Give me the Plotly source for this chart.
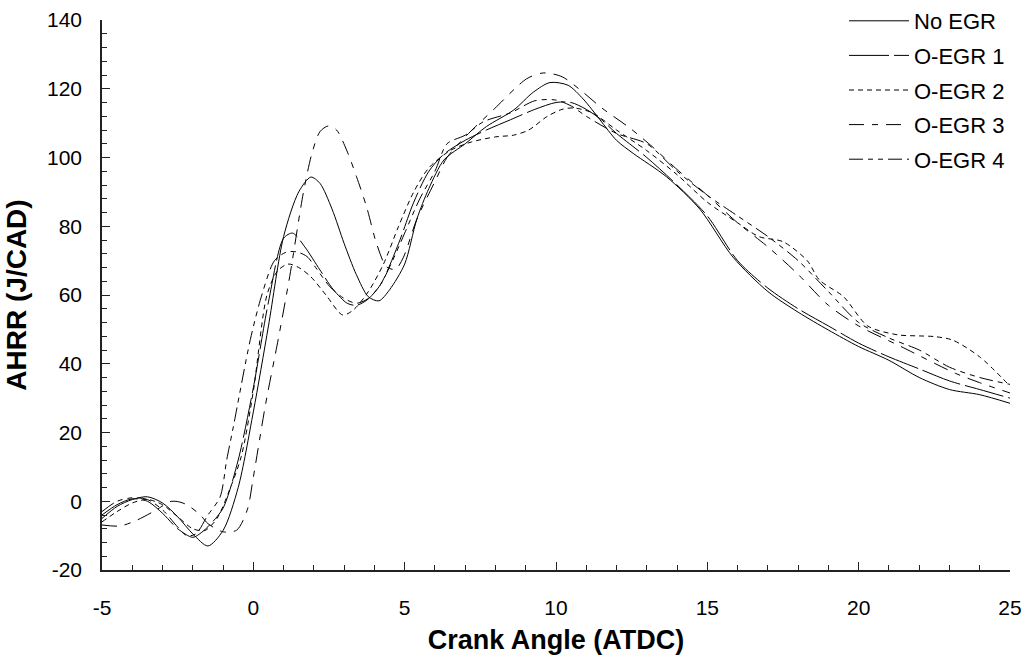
import plotly.graph_objects as go

# ---- data ----
x_no_egr = [-5, -4.5, -4, -3.5, -3, -2.5, -2, -1.5, -1, -0.5, 0, 0.5, 1, 1.5, 1.9, 2.2, 2.6, 3, 3.4, 3.8,
            4.15, 4.5, 5, 5.4, 5.8, 6.3, 7, 7.7, 8.6, 9.25, 9.8, 10.4, 10.9, 11.45, 12, 12.55, 13.65,
            14.75, 15.85, 17, 18, 19, 20, 21, 22, 23, 24, 25]
y_no_egr = [-5, -1.5, 0.5, 1.3, -0.5, -4.5, -9.5, -13, -8.5, 4, 26, 51, 77, 90, 94.3, 92.5, 85, 75, 66, 59.5,
            58.3, 61.5, 69, 82, 91, 99.3, 104, 109, 113.8, 119, 121.8, 121, 117, 111, 105, 101.2, 94.4,
            85, 71, 61, 55, 49.8, 45, 41, 36, 32.5, 31, 28.5]

x_oegr1 = [-5, -4.5, -4, -3.5, -3, -2.5, -2, -1.7, -1.4, -1, -0.5, 0, 0.5, 1, 1.3, 1.7, 2.2, 2.65, 3.1, 3.4,
           3.75, 4.2, 4.8, 5.3, 5.8, 6.3, 7, 7.7, 8.5, 9.3, 10, 10.5, 11, 11.5, 12, 13, 14, 15, 16, 17,
           18, 19, 20, 21, 22, 23, 24, 25]
y_oegr1 = [-4, -1, 0.7, 0, -3.5, -8, -10.5, -9, -6.5, -2, 12, 33, 58, 76.5, 78, 74, 67.3, 61.5, 57.6, 57,
           58.5, 63, 75, 87, 96, 101, 105, 108, 111, 114, 116, 116, 114, 111, 107, 100, 92, 83, 70, 62,
           56, 51, 46, 42, 38.5, 35, 32.5, 30]

x_oegr2 = [-5, -4.5, -4, -3.5, -3, -2.5, -2, -1.6, -1.2, -0.8, -0.4, 0, 0.45, 0.8, 1.15, 1.5, 1.9, 2.4,
           2.95, 3.3, 3.8, 4.3, 4.8, 5.3, 5.8, 6.5, 7.2, 8, 8.6, 9.1, 9.7, 10.2, 10.6, 11.2, 12, 13, 14,
           15, 16, 16.7, 17.5, 18.3, 18.7, 19.5, 20.3, 21.3, 22, 22.5, 23.1, 24, 25]
y_oegr2 = [-6, -3, -0.5, 0.5, -1, -4.5, -8, -8.5, -5, 3, 13, 32, 60, 67, 69, 68, 65.3, 60,
           54.2, 55.6, 61, 69, 80, 90, 97, 102, 104.5, 106, 106.5, 108, 111.9, 114, 114.4, 113, 108, 102, 95,
           87, 81, 77, 75.5, 70, 64.4, 59.5, 51, 48.4, 48.1, 47.9, 46.9, 42, 33.5]

x_oegr3 = [-5, -4.4, -3.85, -3.2, -2.75, -2.5, -2.2, -1.75, -1.5, -1, -0.55, -0.2, 0, 0.4, 0.82, 1.2, 1.65,
           1.93, 2.2, 2.48, 2.75, 3.08, 3.41, 3.74, 4.07, 4.4, 4.7, 4.96, 5.4, 6, 6.4, 7, 7.98, 9.03, 9.58,
           10.2, 10.85, 11.5, 12.45, 13.2, 13.95, 15, 16, 17, 18, 19, 20, 21.4, 23.2, 24, 25]
y_oegr3 = [-6.9, -7.2, -5.5, -2.5, -0.1, -0.1, -1, -4, -6.5, -8.9, -8.4, -2.5, 7, 28, 47, 65.3, 89.6,
           101, 107.5, 109.2, 108, 102.2, 94.4, 85.7, 75, 68.2, 67.5, 71, 82, 93, 100, 106, 114.3, 122.9, 124.6,
           123.5, 119.3, 114.5, 108.5, 103, 96.9, 89, 81, 74, 66, 57, 51, 45, 37.2, 34.5, 31.5]

x_oegr4 = [-5, -4.5, -4, -3.5, -3, -2.5, -2.2, -1.9, -1.5, -1.1, -0.88, -0.66, -0.1, 0.28, 0.7, 1.1, 1.45,
           1.77, 2.1, 2.53, 3, 3.41, 3.8, 4.2, 4.6, 5, 5.5, 6, 6.4, 7, 7.6, 8.5, 9.3, 10, 10.5, 11, 12, 13,
           14, 15, 16, 17, 18, 19, 20, 21, 22, 23, 24, 25]
y_oegr4 = [-3, 0, 1, 0.5, -2.5, -7.5, -10, -9.5, -4, 1.2, 12, 21.7, 47, 60, 70, 72.5, 72.5,
           71.2, 67.5, 62.4, 59, 57.6, 59, 63, 70, 78, 88, 96, 104, 106.5, 110.4, 113, 116.5, 116.7, 115, 112, 107, 104,
           96, 89, 83, 77, 70, 61, 52, 47.5, 44, 39, 36, 34]

series_names = ["No EGR", "O-EGR 1", "O-EGR 2", "O-EGR 3", "O-EGR 4"]
x_ticks = [-5, 0, 5, 10, 15, 20, 25]
y_ticks = [-20, 0, 20, 40, 60, 80, 100, 120, 140]

series = [
    (series_names[0], x_no_egr, y_no_egr, "solid"),
    (series_names[1], x_oegr1, y_oegr1, "40px,5px"),
    (series_names[2], x_oegr2, y_oegr2, "5px,4px"),
    (series_names[3], x_oegr3, y_oegr3, "15px,8px,6px,8px"),
    (series_names[4], x_oegr4, y_oegr4, "14px,5px,5px,5px,5px,5px"),
]

FONT = "Liberation Sans, Arial, sans-serif"

fig = go.Figure()
for i, (name, xs, ys, dash) in enumerate(series):
    assert len(xs) == len(ys), name
    fig.add_trace(go.Scatter(
        x=xs, y=ys, name=name, mode="lines", legendgroup=f"g{i}",
        line=dict(color="black", width=1, dash=dash, shape="spline", smoothing=0.8),
    ))

fig.update_layout(
    width=1023, height=661,
    margin=dict(l=102, r=13, t=20, b=91, autoexpand=False),
    paper_bgcolor="white", plot_bgcolor="white",
    font=dict(family=FONT, size=21, color="black"),
    showlegend=True,
    legend=dict(xref="paper", x=1.0, xanchor="right",
                yref="container", y=1.004, yanchor="top",
                bgcolor="rgba(0,0,0,0)", font=dict(size=22, family=FONT),
                tracegroupgap=3, itemwidth=60),
)

fig.update_xaxes(
    range=[-5, 25], tickvals=x_ticks, ticktext=[str(v) for v in x_ticks],
    automargin=False,
    showgrid=False, zeroline=False, showline=True, linecolor="#222", linewidth=1.5,
    ticks="inside", ticklen=8, tickcolor="#222", tickwidth=1,
    minor=dict(dtick=1, ticks="inside", ticklen=5, tickcolor="#222", tickwidth=1, showgrid=False),
    ticklabelstandoff=18,
    tickfont=dict(size=21, family=FONT),
    title=dict(text="<b>Crank Angle (ATDC)</b>", font=dict(size=27, family=FONT), standoff=12),
)
fig.update_yaxes(
    range=[-20, 140], tickvals=y_ticks, ticktext=[str(v) for v in y_ticks],
    automargin=False,
    showgrid=False, zeroline=False, showline=True, linecolor="#222", linewidth=1.5,
    ticks="inside", ticklen=8, tickcolor="#222", tickwidth=1,
    minor=dict(dtick=4, ticks="inside", ticklen=5, tickcolor="#222", tickwidth=1, showgrid=False),
    ticklabelstandoff=14,
    tickfont=dict(size=21, family=FONT),
    title=dict(text="<b>AHRR (J/CAD)</b>", font=dict(size=28, family=FONT), standoff=12),
)

fig.write_html(
    "out.html",
    config={"displayModeBar": False},
    post_script="document.body.style.margin='0';document.body.style.padding='0';"
                "document.body.style.overflow='hidden';",
)
